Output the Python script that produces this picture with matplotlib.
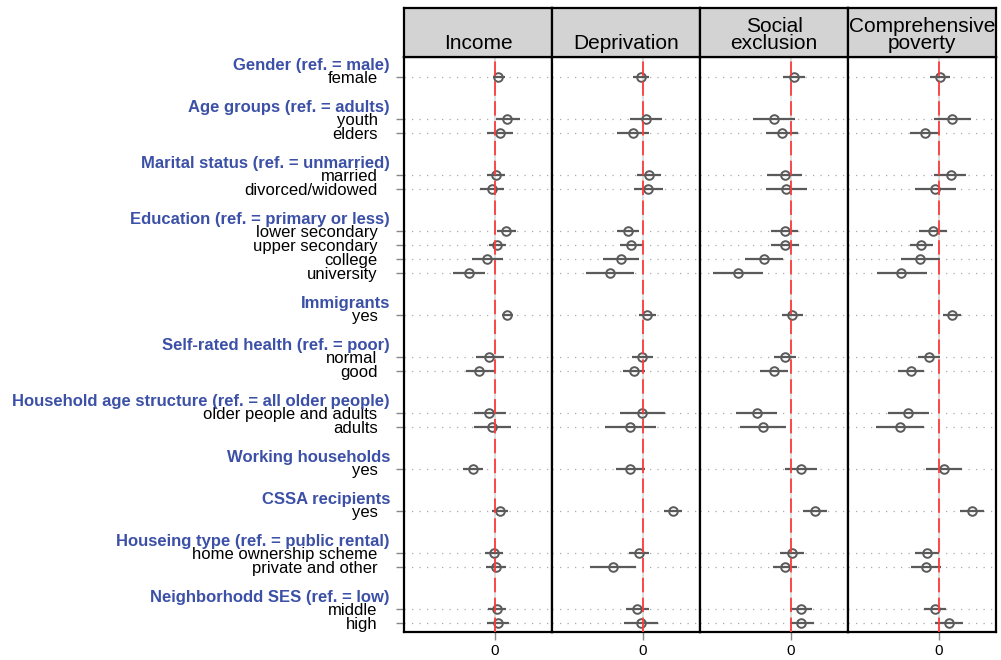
import matplotlib
matplotlib.use("Agg")
import matplotlib.pyplot as plt
import matplotlib.transforms as mtransforms

plt.rcParams["font.family"] = ["Liberation Sans", "DejaVu Sans"]

# groups (header, items)
headers = ["Gender (ref. = male)", "Age groups (ref. = adults)",
           "Marital status (ref. = unmarried)", "Education (ref. = primary or less)",
           "Immigrants", "Self-rated health (ref. = poor)",
           "Household age structure (ref. = all older people)", "Working households",
           "CSSA recipients", "Houseing type (ref. = public rental)",
           "Neighborhodd SES (ref. = low)"]
items = [["female"], ["youth", "elders"], ["married", "divorced/widowed"],
         ["lower secondary", "upper secondary", "college", "university"],
         ["yes"], ["normal", "good"], ["older people and adults", "adults"],
         ["yes"], ["yes"], ["home ownership scheme", "private and other"],
         ["middle", "high"]]

panels = ["Income", "Deprivation", "Social\nexclusion", "Comprehensive\npoverty"]

# estimates and confidence bounds, one list per panel (row order as above)
est = [
    [0.03, 0.12, 0.05, 0.01, -0.03, 0.11, 0.02, -0.08, -0.26, 0.12, -0.06, -0.16,
     -0.06, -0.03, -0.22, 0.05, -0.01, 0.01, 0.02, 0.03],
    [-0.02, 0.03, -0.10, 0.06, 0.05, -0.15, -0.12, -0.22, -0.33, 0.04, -0.01, -0.09,
     -0.01, -0.13, -0.13, 0.30, -0.04, -0.30, -0.06, -0.02],
    [0.03, -0.17, -0.09, -0.06, -0.05, -0.06, -0.06, -0.27, -0.53, 0.01, -0.06, -0.17,
     -0.34, -0.28, 0.10, 0.24, 0.01, -0.06, 0.10, 0.10],
    [0.01, 0.13, -0.14, 0.12, -0.04, -0.06, -0.18, -0.19, -0.38, 0.13, -0.10, -0.28,
     -0.31, -0.39, 0.05, 0.33, -0.12, -0.13, -0.04, 0.10],
]
lo = [
    [-0.02, 0.01, -0.08, -0.08, -0.15, 0.02, -0.06, -0.23, -0.42, 0.07, -0.19, -0.29,
     -0.21, -0.21, -0.32, -0.03, -0.10, -0.09, -0.07, -0.08],
    [-0.10, -0.13, -0.26, -0.06, -0.09, -0.26, -0.23, -0.40, -0.57, -0.04, -0.11, -0.20,
     -0.23, -0.38, -0.27, 0.21, -0.14, -0.53, -0.17, -0.19],
    [-0.08, -0.38, -0.25, -0.24, -0.25, -0.20, -0.20, -0.46, -0.78, -0.09, -0.17, -0.31,
     -0.55, -0.51, -0.06, 0.12, -0.11, -0.18, -0.01, -0.01],
    [-0.09, -0.05, -0.29, -0.05, -0.24, -0.20, -0.29, -0.38, -0.62, 0.04, -0.21, -0.41,
     -0.51, -0.63, -0.13, 0.21, -0.24, -0.28, -0.15, -0.04],
]
hi = [
    [0.10, 0.25, 0.18, 0.10, 0.09, 0.21, 0.11, 0.08, -0.10, 0.18, 0.09, 0.00,
     0.11, 0.16, -0.12, 0.13, 0.08, 0.11, 0.11, 0.14],
    [0.06, 0.19, 0.06, 0.18, 0.20, -0.04, 0.00, -0.04, -0.09, 0.13, 0.10, 0.02,
     0.22, 0.13, 0.02, 0.39, 0.06, -0.07, 0.06, 0.15],
    [0.14, 0.04, 0.07, 0.11, 0.16, 0.07, 0.08, -0.08, -0.28, 0.12, 0.05, -0.03,
     -0.14, -0.05, 0.26, 0.36, 0.13, 0.06, 0.21, 0.23],
    [0.11, 0.32, 0.01, 0.27, 0.17, 0.08, -0.06, 0.01, -0.12, 0.22, 0.01, -0.15,
     -0.10, -0.15, 0.23, 0.45, 0.00, 0.02, 0.07, 0.24],
]

# row positions: gap of two rows before each new group
rows, labels, head_rows = [], [], []
pos = -3
for h, grp in zip(headers, items):
    pos += 3
    head_rows.append(pos - 0.84)
    for i, lab in enumerate(grp):
        if i > 0:
            pos += 1
        rows.append(pos)
        labels.append(lab)

W, H = 1001, 660
fig = plt.figure(figsize=(W / 100, H / 100), dpi=100)

x0, pw = 404, 148
top, bot, strip_top = 57, 632, 8
ylo, yhi = rows[-1] + 0.64, -1.43

for k, name in enumerate(panels):
    ax = fig.add_axes([(x0 + k * pw) / W, 1 - bot / H, pw / W, (bot - top) / H])
    for r in rows:
        ax.axhline(r, color="#aaaaaa", lw=0.9, ls=(0, (1, 5)), zorder=1)
    ax.axvline(0, color="#d9d9d9", lw=1.2, zorder=1)
    ax.hlines(rows, lo[k], hi[k], color="#5a5a5a", lw=1.6, zorder=3)
    ax.plot(est[k], rows, "o", ms=6.2, mfc="none", mec="#5a5a5a", mew=1.4, zorder=4)
    ax.axvline(0, color="#ff3b3b", lw=1.3, ls=(0, (8, 3)), zorder=5)
    ax.set_xlim(-0.91, 0.57)
    ax.set_ylim(ylo, yhi)
    ax.set_xticks([0])
    ax.set_xticklabels(["0"], fontsize=11)
    ax.tick_params(axis="x", color="#888888", length=6, width=1, pad=2.5)
    for sp in ax.spines.values():
        sp.set_linewidth(1.6)
        sp.set_color("black")
    if k == 0:
        ax.set_yticks(rows)
        ax.set_yticklabels(labels, fontsize=12)
        ax.tick_params(axis="y", color="#888888", length=6, width=1, pad=13)
        tr = mtransforms.blended_transform_factory(ax.transAxes, ax.transData)
        for h, hr in zip(headers, head_rows):
            ax.text(-14 / pw, hr, h, transform=tr, ha="right", va="center",
                    fontsize=12, fontweight="bold", color="#3b50a6")
    else:
        ax.set_yticks([])

    # strip
    sax = fig.add_axes([(x0 + k * pw) / W, 1 - top / H, pw / W, (top - strip_top) / H])
    sax.set_facecolor("#d3d3d3")
    sax.set_xticks([])
    sax.set_yticks([])
    for sp in sax.spines.values():
        sp.set_linewidth(1.6)
    sax.text(0.5, 0.08, name, ha="center", va="bottom", fontsize=15,
             transform=sax.transAxes, linespacing=0.9)

fig.savefig("out.png", dpi=100)
